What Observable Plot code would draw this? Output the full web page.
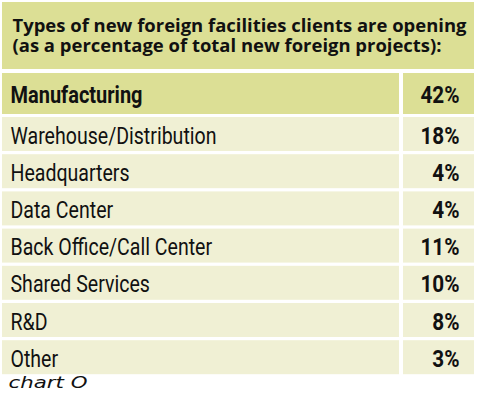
<!DOCTYPE html>
<html>
<head>
<meta charset="utf-8">
<script src="https://cdn.jsdelivr.net/npm/d3@7"></script>
<script src="https://cdn.jsdelivr.net/npm/@observablehq/plot@0.6"></script>
<style>
  body { margin: 0; background: #fff; }
</style>
</head>
<body>
<div id="chart"></div>
<script>
const titleLines = [
  "Types of new foreign facilities clients are opening",
  "(as a percentage of total new foreign projects):"
]
const categories = ["Manufacturing", "Warehouse/Distribution", "Headquarters", "Data Center",
  "Back Office/Call Center", "Shared Services", "R&D", "Other"]
const shares = [42, 18, 4, 4, 11, 10, 8, 3]
const caption = "chart O"

const dark = "#dcdf95"
const light = "#f0f0d4"
const cond = "Roboto, sans-serif"

// first row is the taller, bold one; the rest share one pitch
const rows = categories.map((name, i) => {
  const top = i == 0 ? 73 : 117 + (i - 1) * 37.2
  const bottom = i == 0 ? 114 : top + 34
  return {name, value: shares[i], top, bottom, lead: i == 0}
})
const lead = rows.filter(d => d.lead)
const rest = rows.filter(d => !d.lead)
const base = d => d.lead ? 102 : d.bottom - 8

let chart = Plot.plot({
  width: 477,
  height: 410,
  margin: 0,
  x: {domain: [0, 477], range: [0, 477], axis: null},
  y: {domain: [0, 410], range: [0, 410], axis: null},
  marks: [
    Plot.rect([0], {x1: 2, x2: 474, y1: 2, y2: 69, fill: dark}),
    Plot.rect(rows, {x1: 2, x2: 399, y1: "top", y2: "bottom", fill: d => d.lead ? dark : light}),
    Plot.rect(rows, {x1: 403, x2: 474, y1: "top", y2: "bottom", fill: d => d.lead ? dark : light}),

    // text marks, in this order: title, lead label, other labels, values, caption
    Plot.text([titleLines.join("\n")], {
      x: 12, y: 17.5, text: d => d, lineHeight: 20 / 17,
      textAnchor: "start", lineAnchor: "top",
      fontSize: 17, fontWeight: "bold", fontFamily: "'Open Sans', sans-serif", fill: "#111"
    }),
    Plot.text(lead, {
      x: 10, y: base, text: "name",
      textAnchor: "start", lineAnchor: "bottom",
      fontSize: 24, fontWeight: "bold", fontFamily: cond, fill: "#111"
    }),
    Plot.text(rest, {
      x: 10, y: base, text: "name",
      textAnchor: "start", lineAnchor: "bottom",
      fontSize: 23, fontFamily: cond, fill: "#111"
    }),
    Plot.text(rows, {
      x: 459, y: base, text: d => d.value + "%",
      textAnchor: "end", lineAnchor: "bottom",
      fontSize: 23, fontWeight: "bold", fontFamily: cond, fill: "#111"
    }),
    Plot.text([caption], {
      x: 8, y: 387, text: d => d, textAnchor: "start", lineAnchor: "bottom",
      fontSize: 16, fontStyle: "italic", fontFamily: "'DejaVu Sans', sans-serif", fill: "#111"
    })
  ],
  style: {background: "#fff"}
})

d3.select('#chart').append(() => chart)

// narrow the glyphs, the source uses a condensed face
const groups = d3.select(chart).selectAll('g[aria-label="text"]').nodes()
const pieces = g => {
  const spans = d3.select(g).selectAll("tspan")
  return spans.empty() ? d3.select(g).selectAll("text") : spans
}
function squeeze(g, k) {
  pieces(g).each(function() {
    const w = this.getComputedTextLength()
    this.setAttribute("textLength", w * k)
    this.setAttribute("lengthAdjust", "spacingAndGlyphs")
  })
}
const widthOf = g => pieces(g).node().getComputedTextLength()
if (groups.length == 5) {
  squeeze(groups[0], 454 / widthOf(groups[0]))
  squeeze(groups[1], 132 / widthOf(groups[1]))
  squeeze(groups[2], 206 / widthOf(groups[2]))
  squeeze(groups[3], 0.9)
  squeeze(groups[4], 79 / widthOf(groups[4]))
}
</script>
</body>
</html>
